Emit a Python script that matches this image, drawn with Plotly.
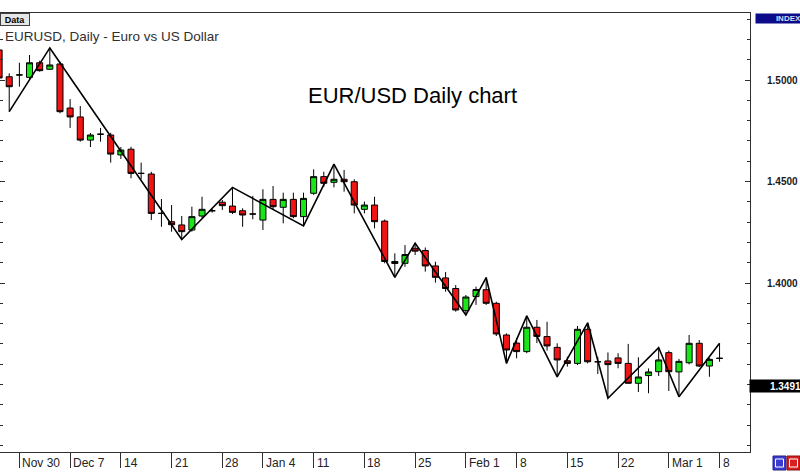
import plotly.graph_objects as go

# ---- data (EUR/USD daily bars, sequential bar index) ----
opens = [1.5148, 1.5016, 1.5025, 1.5013, 1.5085, 1.5053, 1.5079, 1.4862, 1.4818, 1.4704,
         1.4733, 1.4729, 1.4631, 1.4659, 1.4540, 1.4537, 1.4343, 1.4302, 1.4286, 1.4261,
         1.4330, 1.4356, 1.4398, 1.4379, 1.4356, 1.4340, 1.4310, 1.4412, 1.4373, 1.4412,
         1.4327, 1.4442, 1.4524, 1.4496, 1.4511, 1.4499, 1.4363, 1.4384, 1.4305, 1.4106,
         1.4097, 1.4171, 1.4160, 1.4084, 1.4025, 1.3973, 1.3864, 1.3933, 1.3967, 1.3900,
         1.3744, 1.3704, 1.3662, 1.3782, 1.3736, 1.3683, 1.3617, 1.3604, 1.3772, 1.3612,
         1.3616, 1.3631, 1.3604, 1.3506, 1.3544, 1.3563, 1.3657, 1.3562, 1.3607, 1.3703,
         1.3591, 1.3629]
highs = [1.5163, 1.5033, 1.5085, 1.5123, 1.5095, 1.5158, 1.5090, 1.4906, 1.4872, 1.4739,
         1.4764, 1.4740, 1.4670, 1.4671, 1.4593, 1.4548, 1.4414, 1.4384, 1.4330, 1.4376,
         1.4425, 1.4365, 1.4409, 1.4471, 1.4368, 1.4429, 1.4462, 1.4478, 1.4445, 1.4445,
         1.4445, 1.4560, 1.4548, 1.4586, 1.4557, 1.4511, 1.4401, 1.4425, 1.4313, 1.4146,
         1.4187, 1.4196, 1.4175, 1.4105, 1.4054, 1.3990, 1.3941, 1.3982, 1.4027, 1.3908,
         1.3752, 1.3729, 1.3838, 1.3818, 1.3809, 1.3703, 1.3637, 1.3788, 1.3804, 1.3636,
         1.3658, 1.3654, 1.3700, 1.3634, 1.3579, 1.3682, 1.3667, 1.3626, 1.3744, 1.3719,
         1.3631, 1.3703]
lows = [1.4990, 1.4844, 1.4967, 1.5000, 1.5041, 1.5049, 1.4836, 1.4764, 1.4696, 1.4670,
        1.4696, 1.4593, 1.4611, 1.4516, 1.4511, 1.4310, 1.4277, 1.4253, 1.4214, 1.4253,
        1.4320, 1.4347, 1.4360, 1.4340, 1.4277, 1.4314, 1.4261, 1.4360, 1.4294, 1.4319,
        1.4281, 1.4434, 1.4474, 1.4471, 1.4450, 1.4343, 1.4343, 1.4269, 1.4097, 1.4028,
        1.4080, 1.4138, 1.4056, 1.4002, 1.3957, 1.3859, 1.3842, 1.3892, 1.3892, 1.3739,
        1.3604, 1.3629, 1.3654, 1.3704, 1.3667, 1.3538, 1.3588, 1.3596, 1.3604, 1.3552,
        1.3432, 1.3580, 1.3505, 1.3463, 1.3457, 1.3542, 1.3468, 1.3440, 1.3599, 1.3586,
        1.3538, 1.3612]
closes = [1.5010, 1.4967, 1.5025, 1.5085, 1.5046, 1.5074, 1.4844, 1.4818, 1.4704, 1.4729,
          1.4733, 1.4635, 1.4655, 1.4540, 1.4540, 1.4343, 1.4343, 1.4287, 1.4253, 1.4327,
          1.4363, 1.4356, 1.4381, 1.4348, 1.4335, 1.4340, 1.4412, 1.4376, 1.4412, 1.4327,
          1.4417, 1.4524, 1.4491, 1.4511, 1.4499, 1.4384, 1.4384, 1.4302, 1.4106, 1.4096,
          1.4140, 1.4157, 1.4084, 1.4028, 1.3973, 1.3867, 1.3931, 1.3968, 1.3900, 1.3749,
          1.3670, 1.3662, 1.3782, 1.3737, 1.3690, 1.3621, 1.3604, 1.3772, 1.3612, 1.3612,
          1.3598, 1.3604, 1.3506, 1.3537, 1.3562, 1.3621, 1.3563, 1.3614, 1.3703, 1.3591,
          1.3624, 1.3629]
bar_index = list(range(len(opens)))

# ZigZag pivots: bar index and whether it is a low ("L") or high ("H")
zz_bars = [1, 5, 18, 23, 30, 33, 39, 41, 46, 48, 50, 52, 55, 58, 60, 65, 67, 71]
zz_kind = ["L", "H", "L", "H", "L", "H", "L", "H", "L", "H", "L", "H", "L", "H", "L", "H", "L", "H"]

# time axis labels (bar index of first bar of each week)
date_tick_bars = [2, 7, 12, 17, 22, 26, 31, 36, 41, 46, 51, 56, 61, 66, 71]
date_tick_text = ["Nov 30", "Dec 7", "14", "21", "28", "Jan 4", "11", "18", "25",
                  "Feb 1", "8", "15", "22", "Mar 1", "8"]

price_tick_vals = [1.40, 1.45, 1.50]
price_tick_text = ["1.4000", "1.4500", "1.5000"]
current_price = 1.3491

title_text = "EURUSD, Daily - Euro vs US Dollar"
chart_caption = "EUR/USD Daily chart"

# ---- figure ----
zz_price = [lows[b] if k == "L" else highs[b] for b, k in zip(zz_bars, zz_kind)]

fig = go.Figure()
fig.add_trace(go.Candlestick(
    x=bar_index, open=opens, high=highs, low=lows, close=closes,
    increasing=dict(line=dict(color="black", width=1), fillcolor="#19e619"),
    decreasing=dict(line=dict(color="black", width=1), fillcolor="#f01414"),
    whiskerwidth=0, hoverinfo="skip", showlegend=False,
))
fig.add_trace(go.Scatter(
    x=zz_bars, y=zz_price, mode="lines",
    line=dict(color="black", width=1.6), hoverinfo="skip", showlegend=False,
))

W, H = 800, 476
ML, MR, MT, MB = 0, 50, 13, 24
plot_w = W - ML - MR
plot_h = H - MT - MB

fig.update_layout(
    width=W, height=H,
    margin=dict(l=ML, r=MR, t=MT, b=MB, pad=0),
    paper_bgcolor="white", plot_bgcolor="white",
    showlegend=False,
    boxgap=0.15,
    xaxis=dict(
        range=[0.09, 74.0],
        rangeslider=dict(visible=False),
        showgrid=False, zeroline=False,
        showline=True, linecolor="#303030", linewidth=1, mirror=True,
        tickvals=date_tick_bars, ticktext=[""] * len(date_tick_bars),
        ticks="outside", ticklen=15, tickcolor="#303030", tickwidth=1,
    ),
    yaxis=dict(
        side="right",
        range=[1.31675, 1.53301],
        showgrid=False, zeroline=False,
        showline=True, linecolor="#303030", linewidth=1, mirror="allticks",
        tickvals=price_tick_vals, ticktext=price_tick_text,
        ticks="inside", ticklen=5, tickcolor="#303030",
        ticklabelstandoff=14,
        tickfont=dict(family="Liberation Sans", size=10, color="#1a1a1a", weight="bold"),
        minor=dict(dtick=0.01, tick0=1.30, ticks="inside", ticklen=3, tickcolor="#303030"),
    ),
    font=dict(family="Liberation Sans", color="#222222"),
)

annotations = []
# date labels, left-aligned right of their tick marks
for b, t in zip(date_tick_bars, date_tick_text):
    annotations.append(dict(
        x=b, y=0, xref="x", yref="paper", text=t, showarrow=False,
        xanchor="left", yanchor="top", xshift=1, yshift=-2,
        font=dict(family="Liberation Sans", size=12, color="#222222"),
    ))
# chart title line
annotations.append(dict(
    x=0.004, y=(H - MB - 37) / plot_h, xref="paper", yref="paper", text=title_text,
    showarrow=False, xanchor="left", yanchor="middle",
    font=dict(family="Liberation Sans", size=13.5, color="#303030"),
))
# caption
annotations.append(dict(
    x=412 / plot_w, y=(H - MB - 95) / plot_h, xref="paper", yref="paper", text=chart_caption,
    showarrow=False, xanchor="center", yanchor="middle",
    font=dict(family="Liberation Sans", size=22, color="black"),
))
# "Data" box
annotations.append(dict(
    x=0, y=1, xref="paper", yref="paper", text="<b>Data</b>", showarrow=False,
    xanchor="left", yanchor="top", bgcolor="#e6e6e6", bordercolor="#404040", borderwidth=1,
    borderpad=0, width=28, height=11,
    font=dict(family="Liberation Sans", size=9, color="black"),
))
# "INDEX" box
annotations.append(dict(
    x=1, y=1, xref="paper", yref="paper", text="<b>INDEX</b>", showarrow=False,
    xanchor="left", yanchor="top", xshift=5, bgcolor="#0c0c8a", borderpad=0,
    width=45, height=9, align="right",
    font=dict(family="Liberation Sans", size=8, color="#d8d8f0"),
))
# current price label
annotations.append(dict(
    x=1, y=current_price, xref="paper", yref="y", text="<b>%.4f</b>" % current_price,
    showarrow=False, xanchor="left", yanchor="middle", xshift=-1,
    bgcolor="black", borderpad=0, width=51, height=12, align="right",
    font=dict(family="Liberation Sans", size=10, color="white"),
))
fig.update_layout(annotations=annotations)

# bottom-right small buttons
def px_x(px):
    return (px - ML) / plot_w

def px_y(py):
    return (H - MB - py) / plot_h

shapes = [
    dict(type="rect", xref="paper", yref="paper", x0=px_x(773), x1=px_x(786),
         y0=px_y(470), y1=px_y(456), fillcolor="#3a3ad0", line=dict(color="#20208a", width=1)),
    dict(type="rect", xref="paper", yref="paper", x0=px_x(775.5), x1=px_x(783.5),
         y0=px_y(467), y1=px_y(459), fillcolor="rgba(0,0,0,0)", line=dict(color="white", width=1)),
    dict(type="rect", xref="paper", yref="paper", x0=px_x(787), x1=px_x(800),
         y0=px_y(470), y1=px_y(456), fillcolor="#d82020", line=dict(color="#8a1010", width=1)),
    dict(type="rect", xref="paper", yref="paper", x0=px_x(789.5), x1=px_x(797.5),
         y0=px_y(467), y1=px_y(459), fillcolor="rgba(0,0,0,0)", line=dict(color="white", width=1)),
]
fig.update_layout(shapes=shapes)

fig.write_html("out.html", config={"displayModeBar": False})
